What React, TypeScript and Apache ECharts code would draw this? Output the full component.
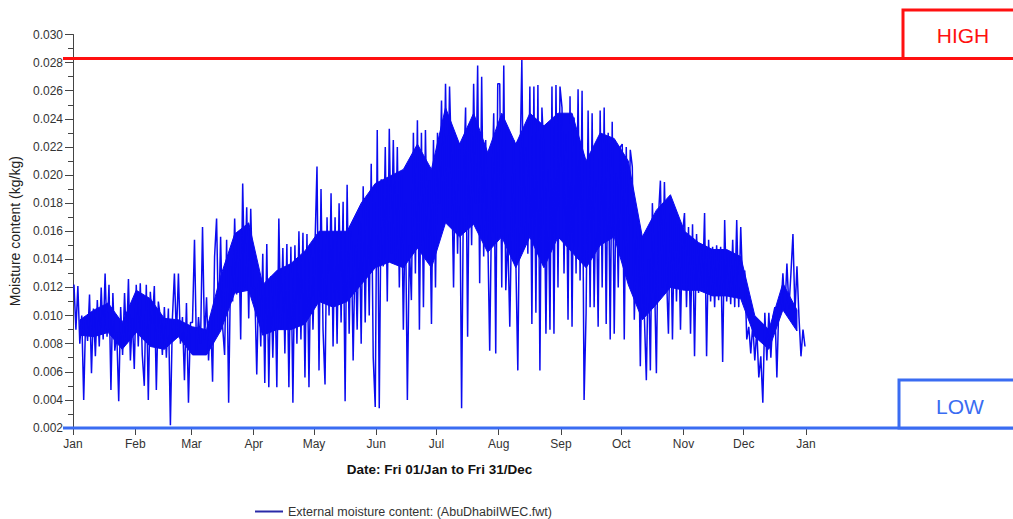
import React, { useEffect, useRef } from "react";
import * as echarts from "echarts";

// Tick labels / categories
const monthNames = ["Jan", "Feb", "Mar", "Apr", "May", "Jun", "Jul", "Aug", "Sep", "Oct", "Nov", "Dec", "Jan"];
const monthStartDays = [0, 31, 59, 90, 120, 151, 181, 212, 243, 273, 304, 334, 365];

// Thresholds (kg/kg)
const HIGH_LIMIT = 0.0283;
const LOW_LIMIT = 0.002;

// External moisture content (kg/kg), month by month (daily swings)
const jan = [0.0122, 0.0090, 0.0121, 0.0080, 0.0100, 0.0040, 0.0098, 0.0082, 0.0115, 0.0059, 0.0105, 0.0071, 0.0111, 0.0078, 0.0120, 0.0083, 0.0130, 0.0085, 0.0122, 0.0047, 0.0116, 0.0075, 0.0088, 0.0039, 0.0106, 0.0072, 0.0116, 0.0080, 0.0126, 0.0068, 0.0098, 0.0062];
const feb = [0.0122, 0.0078, 0.0123, 0.0072, 0.0050, 0.0122, 0.0040, 0.0117, 0.0094, 0.0121, 0.0047, 0.0110, 0.0099, 0.0072, 0.0106, 0.0070, 0.0105, 0.0022, 0.0098, 0.0130, 0.0085, 0.0130, 0.0080, 0.0099, 0.0054, 0.0109, 0.0038, 0.0095];
const mar = [0.0095, 0.0154, 0.0075, 0.0099, 0.0080, 0.0163, 0.0083, 0.0113, 0.0068, 0.0100, 0.0053, 0.0142, 0.0169, 0.0090, 0.0156, 0.0092, 0.0072, 0.0154, 0.0038, 0.0135, 0.0110, 0.0169, 0.0115, 0.0160, 0.0083, 0.0194, 0.0120, 0.0177, 0.0098, 0.0176, 0.0120];
const apr = [0.0120, 0.0058, 0.0125, 0.0078, 0.0144, 0.0052, 0.0151, 0.0049, 0.0128, 0.0070, 0.0130, 0.0049, 0.0169, 0.0090, 0.0148, 0.0073, 0.0151, 0.0049, 0.0149, 0.0038, 0.0150, 0.0080, 0.0160, 0.0083, 0.0159, 0.0056, 0.0158, 0.0049, 0.0151, 0.0090];
const may = [0.0150, 0.0206, 0.0061, 0.0190, 0.0090, 0.0051, 0.0170, 0.0100, 0.0187, 0.0078, 0.0170, 0.0080, 0.0180, 0.0095, 0.0181, 0.0039, 0.0193, 0.0087, 0.0160, 0.0068, 0.0150, 0.0090, 0.0173, 0.0080, 0.0192, 0.0095, 0.0182, 0.0100, 0.0208, 0.0070, 0.0035];
const jun = [0.0232, 0.0034, 0.0197, 0.0135, 0.0220, 0.0110, 0.0233, 0.0144, 0.0225, 0.0140, 0.0220, 0.0120, 0.0200, 0.0090, 0.0180, 0.0040, 0.0150, 0.0111, 0.0230, 0.0130, 0.0239, 0.0090, 0.0230, 0.0106, 0.0232, 0.0140, 0.0196, 0.0094, 0.0225, 0.0120];
const jul = [0.0230, 0.0180, 0.0253, 0.0163, 0.0265, 0.0170, 0.0263, 0.0208, 0.0120, 0.0222, 0.0144, 0.0218, 0.0034, 0.0200, 0.0248, 0.0085, 0.0234, 0.0150, 0.0265, 0.0180, 0.0278, 0.0123, 0.0270, 0.0142, 0.0225, 0.0161, 0.0075, 0.0182, 0.0244, 0.0073, 0.0265];
const aug = [0.0265, 0.0120, 0.0278, 0.0118, 0.0158, 0.0092, 0.0177, 0.0225, 0.0140, 0.0061, 0.0200, 0.0282, 0.0150, 0.0220, 0.0144, 0.0263, 0.0094, 0.0263, 0.0102, 0.0264, 0.0061, 0.0248, 0.0215, 0.0087, 0.0204, 0.0090, 0.0263, 0.0087, 0.0264, 0.0120, 0.0263];
const sep = [0.0248, 0.0130, 0.0229, 0.0097, 0.0256, 0.0092, 0.0241, 0.0130, 0.0261, 0.0125, 0.0260, 0.0040, 0.0102, 0.0246, 0.0106, 0.0244, 0.0106, 0.0196, 0.0092, 0.0246, 0.0120, 0.0248, 0.0094, 0.0230, 0.0083, 0.0238, 0.0087, 0.0201, 0.0120, 0.0220];
const oct = [0.0222, 0.0083, 0.0220, 0.0130, 0.0218, 0.0206, 0.0097, 0.0150, 0.0168, 0.0064, 0.0156, 0.0100, 0.0054, 0.0140, 0.0061, 0.0180, 0.0130, 0.0059, 0.0170, 0.0196, 0.0120, 0.0195, 0.0130, 0.0087, 0.0173, 0.0083, 0.0168, 0.0110, 0.0165, 0.0090, 0.0158];
const nov = [0.0173, 0.0106, 0.0163, 0.0087, 0.0165, 0.0071, 0.0158, 0.0116, 0.0149, 0.0120, 0.0173, 0.0071, 0.0154, 0.0110, 0.0149, 0.0106, 0.0150, 0.0111, 0.0149, 0.0067, 0.0168, 0.0110, 0.0144, 0.0108, 0.0154, 0.0106, 0.0168, 0.0106, 0.0163, 0.0120];
const dec = [0.0132, 0.0083, 0.0092, 0.0073, 0.0094, 0.0068, 0.0090, 0.0056, 0.0071, 0.0038, 0.0102, 0.0068, 0.0102, 0.0070, 0.0099, 0.0106, 0.0056, 0.0109, 0.0104, 0.0130, 0.0104, 0.0137, 0.0105, 0.0130, 0.0158, 0.0102, 0.0135, 0.0099, 0.0071, 0.0090, 0.0078];

// Dense (hour-by-hour) core of the trace, week by week: lower and upper edge (kg/kg)
const coreLow = [0.0086, 0.0085, 0.0088, 0.0076, 0.0088, 0.0078, 0.0076, 0.0085, 0.0072, 0.0072, 0.0089, 0.0116, 0.0118, 0.0086, 0.0090, 0.0090, 0.0094, 0.0110, 0.0106, 0.0110, 0.0122, 0.0134, 0.0138, 0.0134, 0.0148, 0.0134, 0.0166, 0.0156, 0.0165, 0.0145, 0.0156, 0.0134, 0.0156, 0.0134, 0.0156, 0.0145, 0.0134, 0.0150, 0.0156, 0.0122, 0.0097, 0.0108, 0.0120, 0.0118, 0.0118, 0.0114, 0.0114, 0.0112, 0.0085, 0.0076, 0.0104, 0.0089];
const coreHigh = [0.0097, 0.0104, 0.0109, 0.0095, 0.0118, 0.0112, 0.0098, 0.0097, 0.0092, 0.0090, 0.0128, 0.0158, 0.0166, 0.0122, 0.0132, 0.0137, 0.0146, 0.0160, 0.0160, 0.0160, 0.0180, 0.0194, 0.0199, 0.0204, 0.0222, 0.0204, 0.0248, 0.0222, 0.0244, 0.0216, 0.0244, 0.0222, 0.0244, 0.0235, 0.0244, 0.0244, 0.0210, 0.0230, 0.0226, 0.0210, 0.0156, 0.0175, 0.0186, 0.0160, 0.0152, 0.0147, 0.0147, 0.0142, 0.0100, 0.0090, 0.0123, 0.0104];

const months = [jan, feb, mar, apr, may, jun, jul, aug, sep, oct, nov, dec];

const SERIES_NAME = "External moisture content: (AbuDhabiIWEC.fwt)";
const FONT = "'Liberation Sans', Arial, Helvetica, sans-serif";
const LINE_BLUE = "#0b0bf0";

function buildPoints(): [number, number][] {
  const pts: [number, number][] = [];
  months.forEach((vals, m) => {
    const start = monthStartDays[m];
    const len = monthStartDays[m + 1] - start;
    vals.forEach((v, i) => {
      pts.push([start + ((i + 0.5) * len) / vals.length, v]);
    });
  });
  return pts;
}

// week centres (days) for the core band
const coreDays = coreLow.map((_, k) => 3.5 + 7 * k);

export default function App() {
  const ref = useRef<HTMLDivElement>(null);
  useEffect(() => {
    if (!ref.current) return;
    const chart = echarts.init(ref.current, null, { renderer: "svg" });
    const monthLabel = (v: number) => {
      const idx = monthStartDays.indexOf(Math.round(v));
      return idx >= 0 ? monthNames[idx] : "";
    };
    chart.setOption({
      animation: false,
      textStyle: { fontFamily: FONT },
      grid: { left: 73, right: 207, top: 34.5, bottom: 91, containLabel: false },
      xAxis: {
        type: "value",
        min: 0,
        max: 365,
        splitLine: { show: false },
        axisLine: { show: true, lineStyle: { color: "#444", width: 1 } },
        axisTick: { show: true, length: 7, customValues: monthStartDays, lineStyle: { color: "#444" } },
        axisLabel: {
          show: true,
          customValues: monthStartDays,
          formatter: monthLabel,
          color: "#333",
          fontSize: 12,
          margin: 10,
          fontFamily: FONT,
        },
        name: "Date: Fri 01/Jan to Fri 31/Dec",
        nameLocation: "middle",
        nameGap: 34,
        nameTextStyle: { fontWeight: "bold", fontSize: 13.5, color: "#111", fontFamily: FONT },
      },
      yAxis: {
        type: "value",
        min: 0.002,
        max: 0.03,
        interval: 0.002,
        splitLine: { show: false },
        axisLine: { show: true, lineStyle: { color: "#444", width: 1 } },
        axisTick: { show: true, length: 8, lineStyle: { color: "#444" } },
        minorTick: { show: true, splitNumber: 2, length: 5, lineStyle: { color: "#444" } },
        axisLabel: {
          formatter: (v: number) => v.toFixed(3),
          color: "#333",
          fontSize: 12,
          margin: 10,
          fontFamily: FONT,
        },
        name: "Moisture content (kg/kg)",
        nameLocation: "middle",
        nameGap: 49,
        nameTextStyle: { fontSize: 14, color: "#222", fontFamily: FONT },
      },
      legend: {
        left: 255,
        top: 505,
        padding: 0,
        itemWidth: 28,
        itemHeight: 12,
        itemGap: 6,
        textStyle: { fontSize: 12.5, color: "#333", fontFamily: FONT },
        data: [{ name: SERIES_NAME, icon: "path://M0,5 L28,5 L28,7 L0,7 Z", itemStyle: { color: "#2a2aa8" } }],
      },
      series: [
        {
          name: "core",
          type: "custom",
          silent: true,
          z: 1,
          data: [0],
          renderItem: (_params: any, api: any) => {
            const upper = coreDays.map((d, i) => api.coord([d, coreHigh[i]]));
            const lower = coreDays.map((d, i) => api.coord([d, coreLow[i]])).reverse();
            return {
              type: "polygon",
              shape: { points: [...upper, ...lower] },
              style: { fill: LINE_BLUE, stroke: LINE_BLUE, lineWidth: 1 },
            };
          },
        },
        {
          name: SERIES_NAME,
          type: "line",
          symbol: "none",
          data: buildPoints(),
          lineStyle: { color: LINE_BLUE, width: 1.5 },
          itemStyle: { color: LINE_BLUE },
          z: 2,
        },
      ],
    });

    const yHigh = chart.convertToPixel({ yAxisIndex: 0 }, HIGH_LIMIT) as number;
    const yLow = chart.convertToPixel({ yAxisIndex: 0 }, LOW_LIMIT) as number;
    const red = "#ff1010";
    const blue = "#3a6cf2";
    chart.setOption({
      graphic: [
        { type: "line", z: 10, shape: { x1: 63, y1: yHigh, x2: 1013, y2: yHigh }, style: { stroke: red, lineWidth: 3 } },
        { type: "rect", z: 10, shape: { x: 903, y: 10, width: 130, height: yHigh - 10 }, style: { fill: "#fff", stroke: red, lineWidth: 3 } },
        { type: "text", z: 11, x: 963, y: 35, style: { text: "HIGH", fill: red, font: `21px ${FONT}`, align: "center", verticalAlign: "middle" } },
        { type: "line", z: 10, shape: { x1: 63, y1: yLow, x2: 1013, y2: yLow }, style: { stroke: blue, lineWidth: 3 } },
        { type: "rect", z: 10, shape: { x: 899, y: 380, width: 130, height: yLow - 380 }, style: { fill: "#fff", stroke: blue, lineWidth: 3 } },
        { type: "text", z: 11, x: 960, y: 406, style: { text: "LOW", fill: blue, font: `21px ${FONT}`, align: "center", verticalAlign: "middle" } },
      ],
    });
    return () => chart.dispose();
  }, []);
  return <div ref={ref} style={{ position: "fixed", left: 0, top: 0, width: 1013, height: 519, background: "#fff" }} />;
}
